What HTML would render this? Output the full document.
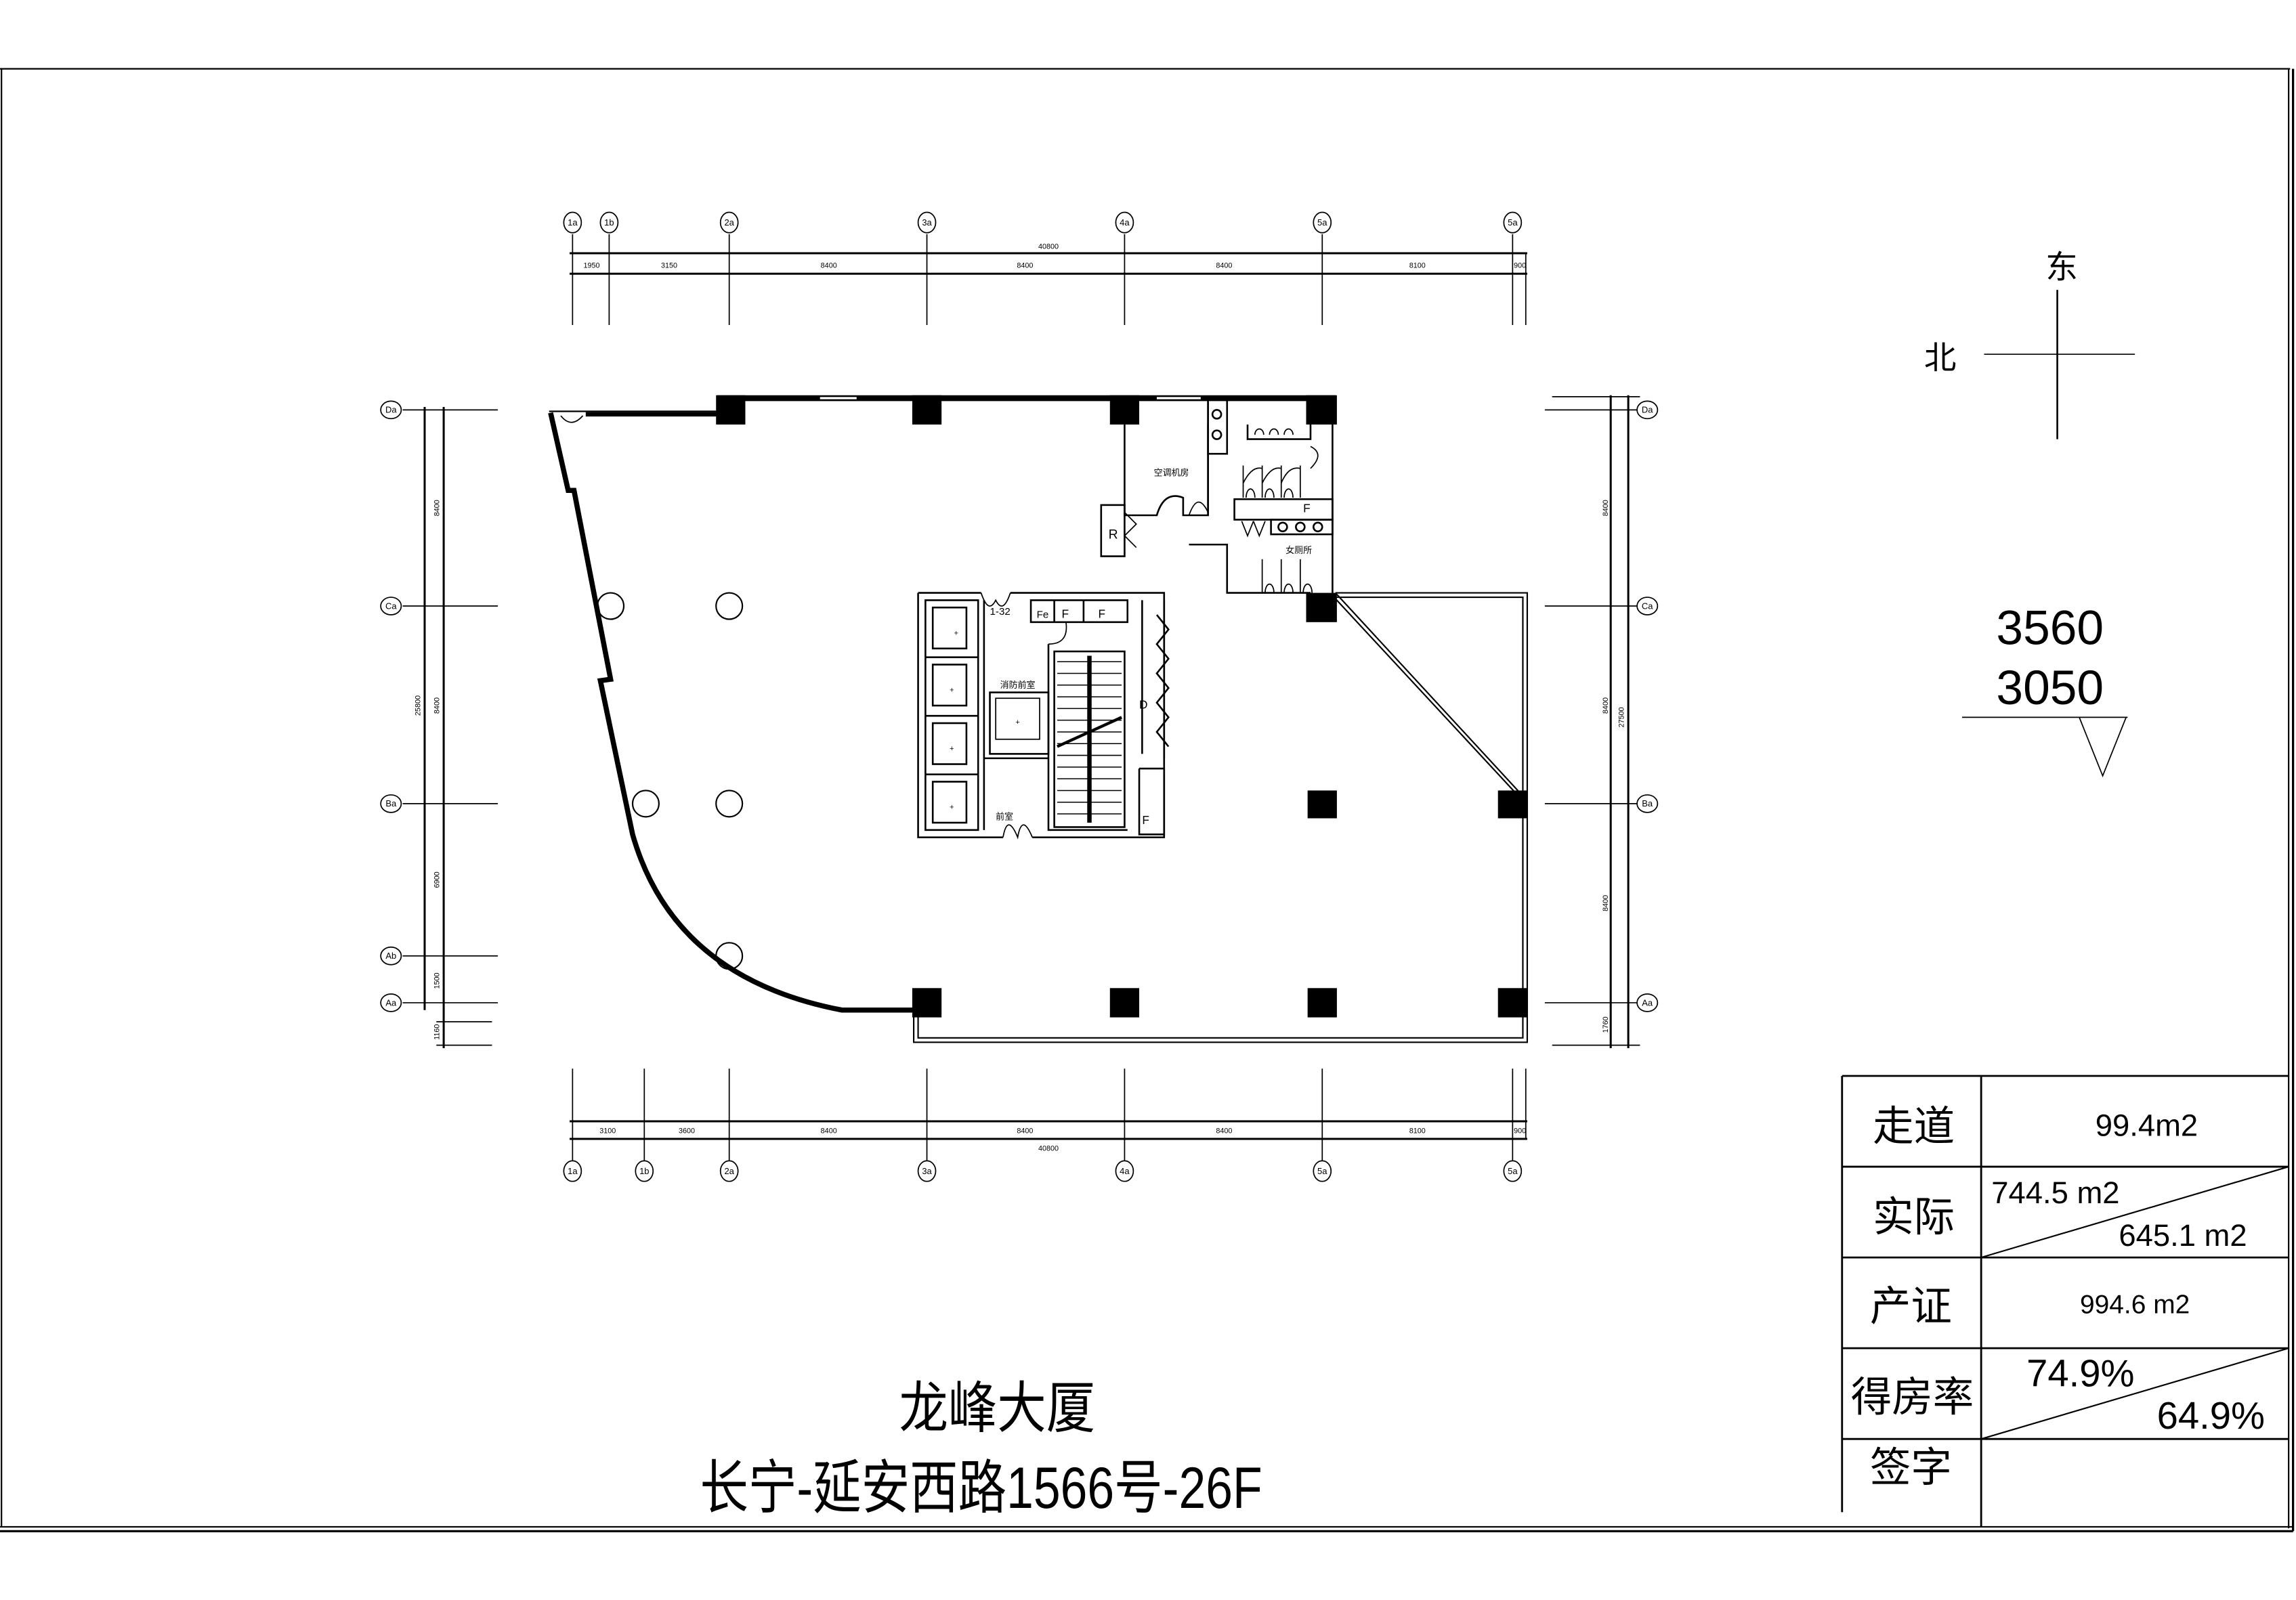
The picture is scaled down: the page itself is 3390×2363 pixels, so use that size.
<!DOCTYPE html>
<html><head><meta charset="utf-8"><style>
html,body{margin:0;padding:0;background:#fff;}
svg{display:block;}
text{font-family:"Liberation Sans","Noto Sans CJK SC",sans-serif;fill:#000;}
</style></head><body>
<svg width="3390" height="2363" viewBox="0 0 1568 1093" xmlns="http://www.w3.org/2000/svg">
<rect width="1568" height="1093" fill="#fff"/>
<g fill="none" stroke="#000" stroke-width="1">
<!-- frame -->
<line x1="0" y1="47" x2="1564" y2="47"/>
<line x1="1" y1="47" x2="1" y2="1043"/>
<line x1="0" y1="1043" x2="1566" y2="1043"/>
<line x1="0" y1="1046" x2="1566" y2="1046" stroke-width="1.5"/>
<line x1="1563" y1="47" x2="1563" y2="1044"/>
<line x1="1566" y1="47" x2="1566" y2="1046" stroke-width="1.5"/>

<!-- top dims -->
<line x1="389" y1="173" x2="1043" y2="173" stroke-width="1.4"/>
<line x1="389" y1="187" x2="1043" y2="187" stroke-width="1.4"/>
<g stroke-width="0.8">
<line x1="391" y1="160" x2="391" y2="222"/><line x1="416" y1="160" x2="416" y2="222"/>
<line x1="498" y1="160" x2="498" y2="222"/><line x1="633" y1="160" x2="633" y2="222"/>
<line x1="768" y1="160" x2="768" y2="222"/><line x1="903" y1="160" x2="903" y2="222"/>
<line x1="1033" y1="160" x2="1033" y2="222"/><line x1="1042" y1="173" x2="1042" y2="222"/>
<ellipse cx="391" cy="152" rx="6" ry="7"/><ellipse cx="416" cy="152" rx="6" ry="7"/>
<ellipse cx="498" cy="152" rx="6" ry="7"/><ellipse cx="633" cy="152" rx="6" ry="7"/>
<ellipse cx="768" cy="152" rx="6" ry="7"/><ellipse cx="903" cy="152" rx="6" ry="7"/>
<ellipse cx="1033" cy="152" rx="6" ry="7"/>
</g>
<!-- bottom dims -->
<line x1="389" y1="766" x2="1043" y2="766" stroke-width="1.4"/>
<line x1="389" y1="778" x2="1043" y2="778" stroke-width="1.4"/>
<g stroke-width="0.8">
<line x1="391" y1="730" x2="391" y2="793"/><line x1="440" y1="730" x2="440" y2="793"/>
<line x1="498" y1="730" x2="498" y2="793"/><line x1="633" y1="730" x2="633" y2="793"/>
<line x1="768" y1="730" x2="768" y2="793"/><line x1="903" y1="730" x2="903" y2="793"/>
<line x1="1033" y1="730" x2="1033" y2="793"/><line x1="1042" y1="730" x2="1042" y2="778"/>
<ellipse cx="391" cy="800" rx="6" ry="7"/><ellipse cx="440" cy="800" rx="6" ry="7"/>
<ellipse cx="498" cy="800" rx="6" ry="7"/><ellipse cx="633" cy="800" rx="6" ry="7"/>
<ellipse cx="768" cy="800" rx="6" ry="7"/><ellipse cx="903" cy="800" rx="6" ry="7"/>
<ellipse cx="1033" cy="800" rx="6" ry="7"/>
</g>
<!-- left dims -->
<line x1="290" y1="278" x2="290" y2="690" stroke-width="1.4"/>
<line x1="303" y1="278" x2="303" y2="716" stroke-width="1.4"/>
<g stroke-width="0.8">
<line x1="275" y1="280" x2="340" y2="280"/><line x1="275" y1="414" x2="340" y2="414"/>
<line x1="275" y1="549" x2="340" y2="549"/><line x1="275" y1="653" x2="340" y2="653"/>
<line x1="275" y1="685" x2="340" y2="685"/><line x1="298" y1="698" x2="336" y2="698"/>
<line x1="298" y1="714" x2="336" y2="714"/>
<ellipse cx="267" cy="280" rx="7" ry="6"/><ellipse cx="267" cy="414" rx="7" ry="6"/>
<ellipse cx="267" cy="549" rx="7" ry="6"/><ellipse cx="267" cy="653" rx="7" ry="6"/>
<ellipse cx="267" cy="685" rx="7" ry="6"/>
</g>
<!-- right dims -->
<line x1="1100" y1="270" x2="1100" y2="716" stroke-width="1.4"/>
<line x1="1112" y1="270" x2="1112" y2="716" stroke-width="1.4"/>
<g stroke-width="0.8">
<line x1="1060" y1="271" x2="1120" y2="271"/>
<line x1="1055" y1="280" x2="1118" y2="280"/><line x1="1055" y1="414" x2="1118" y2="414"/>
<line x1="1055" y1="549" x2="1118" y2="549"/><line x1="1055" y1="685" x2="1118" y2="685"/>
<line x1="1060" y1="714" x2="1120" y2="714"/>
<ellipse cx="1125" cy="280" rx="7" ry="6"/><ellipse cx="1125" cy="414" rx="7" ry="6"/>
<ellipse cx="1125" cy="549" rx="7" ry="6"/><ellipse cx="1125" cy="685" rx="7" ry="6"/>
</g>

<!-- building walls -->
<line x1="490" y1="272" x2="912" y2="272" stroke-width="4"/>
<line x1="560" y1="272" x2="585" y2="272" stroke="#fff" stroke-width="1.5"/>
<line x1="790" y1="272" x2="820" y2="272" stroke="#fff" stroke-width="1.5"/>
<line x1="375" y1="281" x2="490" y2="281" stroke-width="1"/>
<line x1="400" y1="283" x2="490" y2="283" stroke-width="3"/>
<path d="M383,284 Q390,293 398,284" stroke-width="0.8"/>
<path d="M376,282 L388,335 L392,335 L417,464 L410,465 L432,570 Q460,668 575,690 L625,690" stroke-width="3.5"/>
<path d="M624,694 L624,712 L1043,712 L1043,405 L912,405" stroke-width="1"/>
<path d="M627,694 L627,709 L1040,709 L1040,408 L912,408" stroke-width="1"/>
<line x1="912" y1="405" x2="1043" y2="547" stroke-width="1"/>
<line x1="912" y1="409" x2="1040" y2="547" stroke-width="1"/>
<!-- circular columns -->
<g stroke-width="1">
<circle cx="417" cy="414" r="9"/><circle cx="498" cy="414" r="9"/>
<circle cx="441" cy="549" r="9"/><circle cx="498" cy="549" r="9"/>
<circle cx="498" cy="653" r="9"/>
</g>
</g>
<!-- square columns -->
<g fill="#000">
<rect x="489" y="270" width="20" height="20"/><rect x="623" y="270" width="20" height="20"/>
<rect x="758" y="270" width="20" height="20"/><rect x="892" y="270" width="21" height="20"/>
<rect x="892" y="405" width="21" height="20"/><rect x="893" y="540" width="20" height="19"/>
<rect x="1023" y="540" width="20" height="19"/>
<rect x="623" y="675" width="20" height="20"/><rect x="758" y="675" width="20" height="20"/>
<rect x="893" y="675" width="20" height="20"/><rect x="1023" y="675" width="20" height="20"/>
</g>
<!-- toilets / AC area -->
<g fill="none" stroke="#000" stroke-width="1.2">
<path d="M768,290 L768,352 L790,352 Q795,335 808,340 L808,352 L825,352 L825,290"/>
<path d="M825,272 L825,352"/>
<path d="M812,352 Q818,335 825,350" stroke-width="0.8"/>
<rect x="825" y="273" width="13" height="37"/>
<circle cx="831" cy="283" r="3"/><circle cx="831" cy="297" r="3"/>
<path d="M852,290 L852,300 L895,300 L895,290"/>
<path d="M857,297 a3,4 0 0 1 6,0 M867,297 a3,4 0 0 1 6,0 M877,297 a3,4 0 0 1 6,0" stroke-width="0.8"/>
<path d="M895,305 Q905,310 895,320" stroke-width="0.8"/>
<path d="M849,318 L849,340 M862,318 L862,340 M875,318 L875,340 M888,318 L888,340" stroke-width="0.8"/>
<path d="M849,330 Q855,318 862,320 M862,330 Q868,318 875,320 M875,330 Q880,318 888,320" stroke-width="0.8"/>
<path d="M851,340 a3,6 0 0 1 6,0 M864,340 a3,6 0 0 1 6,0 M877,340 a3,6 0 0 1 6,0" stroke-width="0.8"/>
<rect x="843" y="341" width="67" height="14"/>
<rect x="868" y="355" width="42" height="10"/>
<circle cx="876" cy="360" r="3"/><circle cx="888" cy="360" r="3"/><circle cx="900" cy="360" r="3"/>
<path d="M848,356 l4,10 l4,-10 M856,356 l4,10 l4,-10" stroke-width="0.8"/>
<rect x="752" y="345" width="16" height="35"/>
<path d="M768,350 l8,8 l-8,8 l8,8" stroke-width="0.8"/>
<path d="M812,372 L838,372 L838,405 L895,405"/>
<path d="M862,382 L862,405 M875,382 L875,405 M888,382 L888,405" stroke-width="0.8"/>
<path d="M864,405 a3,6 0 0 1 6,0 M877,405 a3,6 0 0 1 6,0 M890,405 a3,6 0 0 1 6,0" stroke-width="0.8"/>
<path d="M910,287 L910,405"/>
<!-- core -->
<path d="M627,405 L670,405 M690,405 L795,405 L795,572 L705,572 M685,572 L627,572 L627,405"/>
<path d="M670,405 Q675,420 680,410 Q685,420 690,405" stroke-width="0.8"/>
<path d="M685,572 Q688,555 695,572 Q698,555 705,572" stroke-width="0.8"/>
<path d="M632,410 L668,410 L668,567 L632,567 Z"/>
<rect x="637" y="415" width="23" height="28"/><rect x="637" y="454" width="23" height="28"/>
<rect x="637" y="494" width="23" height="28"/><rect x="637" y="534" width="23" height="28"/>
<line x1="632" y1="449" x2="668" y2="449"/><line x1="632" y1="489" x2="668" y2="489"/><line x1="632" y1="529" x2="668" y2="529"/>
<path d="M672,410 L672,567"/>
<rect x="676" y="473" width="40" height="42"/>
<rect x="680" y="477" width="30" height="28" stroke-width="0.8"/>
<path d="M672,518 L716,518"/>
<path d="M716,440 L716,567 L770,567"/>
<path d="M716,440 Q730,440 728,425" stroke-width="0.8"/>
<rect x="720" y="445" width="48" height="120"/>
<path d="M795,410 L795,518"/><path d="M780,410 L780,515"/>
<path d="M704,410 L770,410 L770,425 L704,425 Z"/>
<path d="M720,410 L720,425 M740,410 L740,425"/>
<path d="M778,525 L795,525 L795,570 L778,570 L778,525"/>
<path d="M790,420 l8,10 l-8,10 l8,10 l-8,10 l8,10 l-8,10 l8,10 l-8,10 l8,10"/>
</g>
<g fill="#000">
<text x="653" y="434" font-size="5" text-anchor="middle">+</text>
<text x="650" y="473" font-size="5" text-anchor="middle">+</text>
<text x="650" y="513" font-size="5" text-anchor="middle">+</text>
<text x="650" y="553" font-size="5" text-anchor="middle">+</text>
<text x="695" y="495" font-size="5" text-anchor="middle">+</text>
</g>
<g stroke="#000" stroke-width="0.7">
<line x1="722" y1="452" x2="766" y2="452"/><line x1="722" y1="460" x2="766" y2="460"/>
<line x1="722" y1="468" x2="766" y2="468"/><line x1="722" y1="476" x2="766" y2="476"/>
<line x1="722" y1="484" x2="766" y2="484"/><line x1="722" y1="492" x2="766" y2="492"/>
<line x1="722" y1="500" x2="766" y2="500"/><line x1="722" y1="508" x2="766" y2="508"/>
<line x1="722" y1="516" x2="766" y2="516"/><line x1="722" y1="524" x2="766" y2="524"/>
<line x1="722" y1="532" x2="766" y2="532"/><line x1="722" y1="540" x2="766" y2="540"/>
<line x1="722" y1="548" x2="766" y2="548"/><line x1="722" y1="556" x2="766" y2="556"/>
<line x1="744" y1="448" x2="744" y2="562" stroke-width="3"/>
<line x1="722" y1="510" x2="766" y2="490" stroke-width="2"/>
</g>
<g font-size="6">
<text x="788" y="325">空调机房</text><text x="683" y="470">消防前室</text><text x="878" y="378">女厕所</text>
<text x="680" y="560">前室</text><text x="676" y="420" font-size="7">1-32</text>
<text x="757" y="368" font-size="9">R</text><text x="778" y="484" font-size="8">D</text>
<text x="708" y="422" font-size="7">Fe</text><text x="725" y="422" font-size="8">F</text><text x="750" y="422" font-size="8">F</text>
<text x="780" y="563" font-size="8">F</text>
<text x="890" y="350" font-size="8">F</text>
</g>

<!-- dim texts -->
<g font-size="5" text-anchor="middle">
<text x="716" y="170">40800</text>
<text x="404" y="183">1950</text><text x="457" y="183">3150</text><text x="566" y="183">8400</text>
<text x="700" y="183">8400</text><text x="836" y="183">8400</text><text x="968" y="183">8100</text><text x="1038" y="183">900</text>
<text x="415" y="774">3100</text><text x="469" y="774">3600</text><text x="566" y="774">8400</text>
<text x="700" y="774">8400</text><text x="836" y="774">8400</text><text x="968" y="774">8100</text><text x="1038" y="774">900</text>
<text x="716" y="786">40800</text>
</g>
<g font-size="5" text-anchor="middle">
<text transform="translate(300,347) rotate(-90)">8400</text>
<text transform="translate(300,482) rotate(-90)">8400</text>
<text transform="translate(300,601) rotate(-90)">6900</text>
<text transform="translate(300,670) rotate(-90)">1500</text>
<text transform="translate(287,482) rotate(-90)">25800</text>
<text transform="translate(300,705) rotate(-90)">1160</text>
<text transform="translate(1098,347) rotate(-90)">8400</text>
<text transform="translate(1098,482) rotate(-90)">8400</text>
<text transform="translate(1098,617) rotate(-90)">8400</text>
<text transform="translate(1098,700) rotate(-90)">1760</text>
<text transform="translate(1109,490) rotate(-90)">27500</text>
</g>
<g font-size="6" text-anchor="middle">
<text x="391" y="154">1a</text><text x="416" y="154">1b</text><text x="498" y="154">2a</text>
<text x="633" y="154">3a</text><text x="768" y="154">4a</text><text x="903" y="154">5a</text><text x="1033" y="154">5a</text>
<text x="391" y="802">1a</text><text x="440" y="802">1b</text><text x="498" y="802">2a</text>
<text x="633" y="802">3a</text><text x="768" y="802">4a</text><text x="903" y="802">5a</text><text x="1033" y="802">5a</text>
<text x="267" y="282">Da</text><text x="267" y="416">Ca</text><text x="267" y="551">Ba</text><text x="267" y="655">Ab</text><text x="267" y="687">Aa</text>
<text x="1125" y="282">Da</text><text x="1125" y="416">Ca</text><text x="1125" y="551">Ba</text><text x="1125" y="687">Aa</text>
</g>

<!-- compass -->
<g stroke="#000" stroke-width="1.2">
<line x1="1405" y1="198" x2="1405" y2="300"/>
<line x1="1355" y1="242" x2="1458" y2="242" stroke-width="0.8"/>
<line x1="1340" y1="490" x2="1453" y2="490" stroke-width="0.8"/>
<polyline points="1420,490 1436,530 1452,490" fill="none" stroke-width="0.8"/>
</g>
<text x="1408" y="190" font-size="22" text-anchor="middle">东</text>
<text x="1325" y="252" font-size="22" text-anchor="middle">北</text>
<text x="1400" y="440" font-size="33" text-anchor="middle">3560</text>
<text x="1400" y="481" font-size="33" text-anchor="middle">3050</text>

<!-- table -->
<g stroke="#000" fill="none" stroke-width="1.3">
<line x1="1258" y1="735" x2="1563" y2="735"/>
<line x1="1258" y1="797" x2="1563" y2="797"/>
<line x1="1258" y1="859" x2="1563" y2="859"/>
<line x1="1258" y1="921" x2="1563" y2="921"/>
<line x1="1258" y1="983" x2="1563" y2="983"/>
<line x1="1258" y1="735" x2="1258" y2="1033"/>
<line x1="1353" y1="735" x2="1353" y2="1043"/>
<line x1="1353" y1="859" x2="1563" y2="797" stroke-width="1"/>
<line x1="1353" y1="983" x2="1563" y2="921" stroke-width="1"/>
</g>
<g font-size="28" text-anchor="middle">
<text x="1307" y="779">走道</text><text x="1307" y="841">实际</text>
<text x="1305" y="902">产证</text><text x="1306" y="964">得房率</text><text x="1305" y="1012">签字</text>
</g>
<text x="1466" y="776" font-size="21" text-anchor="middle" font-family="Liberation Mono, monospace">99.4m2</text>
<text x="1360" y="822" font-size="21" font-family="Liberation Mono, monospace">744.5 m2</text>
<text x="1447" y="851" font-size="21" font-family="Liberation Mono, monospace">645.1 m2</text>
<text x="1458" y="897" font-size="18" text-anchor="middle" font-family="Liberation Mono, monospace">994.6 m2</text>
<text x="1384" y="947" font-size="26" font-family="Liberation Mono, monospace">74.9%</text>
<text x="1473" y="976" font-size="26" font-family="Liberation Mono, monospace">64.9%</text>

<!-- title -->
<text x="614" y="975" font-size="38" textLength="134" lengthAdjust="spacingAndGlyphs">龙峰大厦</text>
<text x="478" y="1030" font-size="40" textLength="384" lengthAdjust="spacingAndGlyphs">长宁-延安西路1566号-26F</text>
</svg>
</body></html>
